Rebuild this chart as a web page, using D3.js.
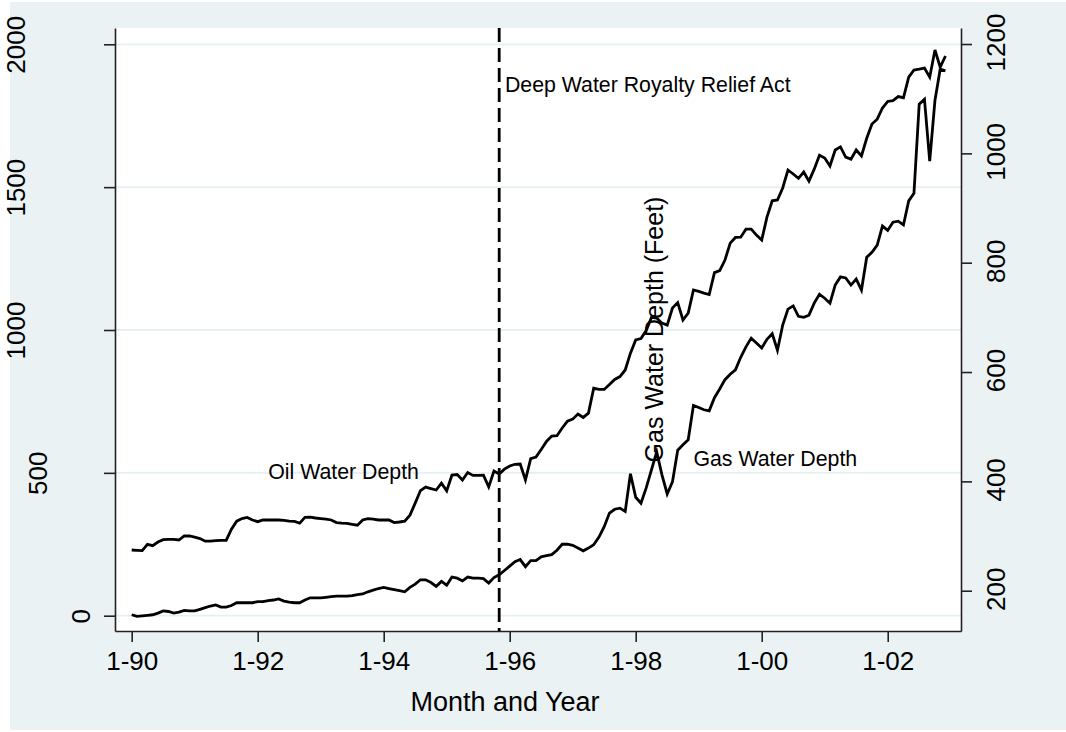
<!DOCTYPE html>
<html>
<head>
<meta charset="utf-8">
<script src="https://cdn.jsdelivr.net/npm/d3@7"></script>
<style>
  body { margin: 0; background: #fff; }
  svg text { font-family: "Liberation Sans", Arial, sans-serif; fill: #000; }
</style>
</head>
<body>
<svg id="chart" width="1066" height="732"></svg>
<script>
// monthly water depth, Jan 1990 .. Dec 2002 (month index 0 = 1-90)
const oilDepth = [230,229,228,250,245,258,266,267,267,265,
  279,279,275,270,261,261,263,264,264,303,
  331,340,344,335,329,335,335,335,335,334,
  331,330,324,344,345,342,340,338,335,326,
  324,323,320,317,335,340,338,335,335,335,
  326,328,331,352,394,438,450,445,440,464,
  437,492,494,475,501,491,491,492,451,506,
  496,513,524,530,531,475,550,555,582,610,
  629,630,657,681,688,706,694,709,796,792,
  792,809,827,837,860,919,965,970,998,1044,
  1042,1024,1017,1077,1096,1035,1059,1140,1135,1129,
  1124,1201,1208,1245,1304,1324,1325,1353,1353,1332,
  1315,1395,1452,1455,1497,1560,1546,1531,1553,1521,
  1563,1612,1602,1574,1630,1641,1605,1598,1630,1609,
  1671,1721,1738,1777,1800,1803,1817,1813,1885,1910,
  1913,1917,1885,1980,1920,1959];

const gasDepth = [156,153,154,155,156,159,163,162,159,161,
  164,163,163,166,169,172,174,170,170,173,
  178,178,178,178,180,180,182,183,185,181,
  179,178,178,183,187,187,187,188,189,190,
  190,190,191,193,194,198,201,204,206,204,
  202,200,198,206,212,220,220,215,208,217,
  210,225,223,218,225,223,223,222,214,224,
  229,237,245,253,257,244,255,255,262,264,
  266,274,285,285,283,278,273,278,284,298,
  317,342,349,351,345,414,371,360,388,421,
  454,412,377,399,457,467,476,539,535,531,
  529,553,569,586,596,604,627,646,662,653,
  644,660,670,640,686,715,721,702,700,704,
  726,742,735,726,759,774,772,759,770,750,
  810,819,832,867,859,874,876,869,913,927,
  1090,1099,986,1097,1154,1151];

const xTickMonths = [0, 24, 48, 72, 96, 120, 144];
const xTickLabels = ["1-90", "1-92", "1-94", "1-96", "1-98", "1-00", "1-02"];
const oilTicks = [0, 500, 1000, 1500, 2000];
const gasTicks = [200, 400, 600, 800, 1000, 1200];

const actMonth = 70;  // Nov 1995
const notes = [
  { text: "Deep Water Royalty Relief Act", month: 71.1, oil: 1860 },
  { text: "Oil Water Depth", month: 26, oil: 505 },
  { text: "Gas Water Depth", month: 107, oil: 550 }
];

const svg = d3.select("#chart");
const plot = { left: 115, right: 961, top: 28, bottom: 631 };

const x = d3.scaleLinear().domain([-3.18, 157.96]).range([plot.left, plot.right]);
const yOil = d3.scaleLinear().domain([-53.55, 2057.05]).range([plot.bottom, plot.top]);
const yGas = d3.scaleLinear().domain([126.3, 1229.3]).range([plot.bottom, plot.top]);

// graph region + plot region
svg.append("rect").attr("x", 10).attr("y", 2).attr("width", 1056).attr("height", 728)
  .attr("fill", "#eaf2f3");
svg.append("rect").attr("x", plot.left).attr("y", plot.top)
  .attr("width", plot.right - plot.left).attr("height", plot.bottom - plot.top)
  .attr("fill", "#fff");

// grid lines
svg.append("g").selectAll("line").data(oilTicks).join("line")
  .attr("x1", plot.left).attr("x2", plot.right)
  .attr("y1", d => yOil(d)).attr("y2", d => yOil(d))
  .attr("stroke", "#e6eff1").attr("stroke-width", 1.8);

const axisColor = "#222";
function styleAxis(g) {
  g.selectAll("path.domain").attr("stroke", axisColor).attr("stroke-width", 1.6);
  g.selectAll(".tick line").attr("stroke", axisColor).attr("stroke-width", 1.6);
  g.selectAll("text").attr("font-size", 26).attr("fill", "#000");
}

// bottom axis
const gx = svg.append("g").attr("transform", `translate(0,${plot.bottom})`)
  .call(d3.axisBottom(x).tickValues(xTickMonths)
    .tickFormat((d, i) => xTickLabels[i]).tickSize(11).tickSizeOuter(0));
styleAxis(gx);
gx.selectAll("text").attr("y", null).attr("dy", null).attr("transform", "translate(0,39)");

// left axis (oil)
const gy = svg.append("g").attr("transform", `translate(${plot.left},0)`)
  .call(d3.axisLeft(yOil).tickValues(oilTicks).tickFormat(d3.format("d"))
    .tickSize(11).tickSizeOuter(0));
styleAxis(gy);
gy.selectAll("text")
  .attr("x", null).attr("dy", null).attr("text-anchor", "middle")
  .attr("transform", d => `translate(${111 - 21.5 * String(d).length - plot.left},0) rotate(-90)`);

// right axis (gas)
const gy2 = svg.append("g").attr("transform", `translate(${plot.right},0)`)
  .call(d3.axisRight(yGas).tickValues(gasTicks).tickFormat(d3.format("d"))
    .tickSize(11).tickSizeOuter(0));
styleAxis(gy2);
gy2.selectAll("text")
  .attr("x", null).attr("dy", null).attr("text-anchor", "middle")
  .attr("transform", `translate(${1005 - plot.right},-2) rotate(-90)`);

// series
const oilLine = d3.line().x((d, i) => x(i)).y(d => yOil(d));
const gasLine = d3.line().x((d, i) => x(i)).y(d => yGas(d));

svg.append("path").datum(oilDepth).attr("d", oilLine)
  .attr("fill", "none").attr("stroke", "#000").attr("stroke-width", 2.8)
  .attr("stroke-miterlimit", 4);
svg.append("path").datum(gasDepth).attr("d", gasLine)
  .attr("fill", "none").attr("stroke", "#000").attr("stroke-width", 2.8)
  .attr("stroke-miterlimit", 4);

// royalty relief act marker
svg.append("line")
  .attr("x1", x(actMonth)).attr("x2", x(actMonth))
  .attr("y1", plot.top).attr("y2", plot.bottom)
  .attr("stroke", "#000").attr("stroke-width", 2.8)
  .attr("stroke-dasharray", "14,6");

// notes
svg.append("g").selectAll("text").data(notes).join("text")
  .attr("x", d => x(d.month)).attr("y", d => yOil(d.oil))
  .attr("dy", "0.35em").attr("font-size", 21.3)
  .text(d => d.text);

// axis titles
svg.append("text")
  .attr("transform", `translate(663,${(plot.top + plot.bottom) / 2}) rotate(-90)`)
  .attr("text-anchor", "middle").attr("font-size", 25)
  .text("Gas Water Depth (Feet)");

svg.append("text")
  .attr("x", 505).attr("y", 711)
  .attr("text-anchor", "middle").attr("font-size", 27)
  .text("Month and Year");
</script>
</body>
</html>
